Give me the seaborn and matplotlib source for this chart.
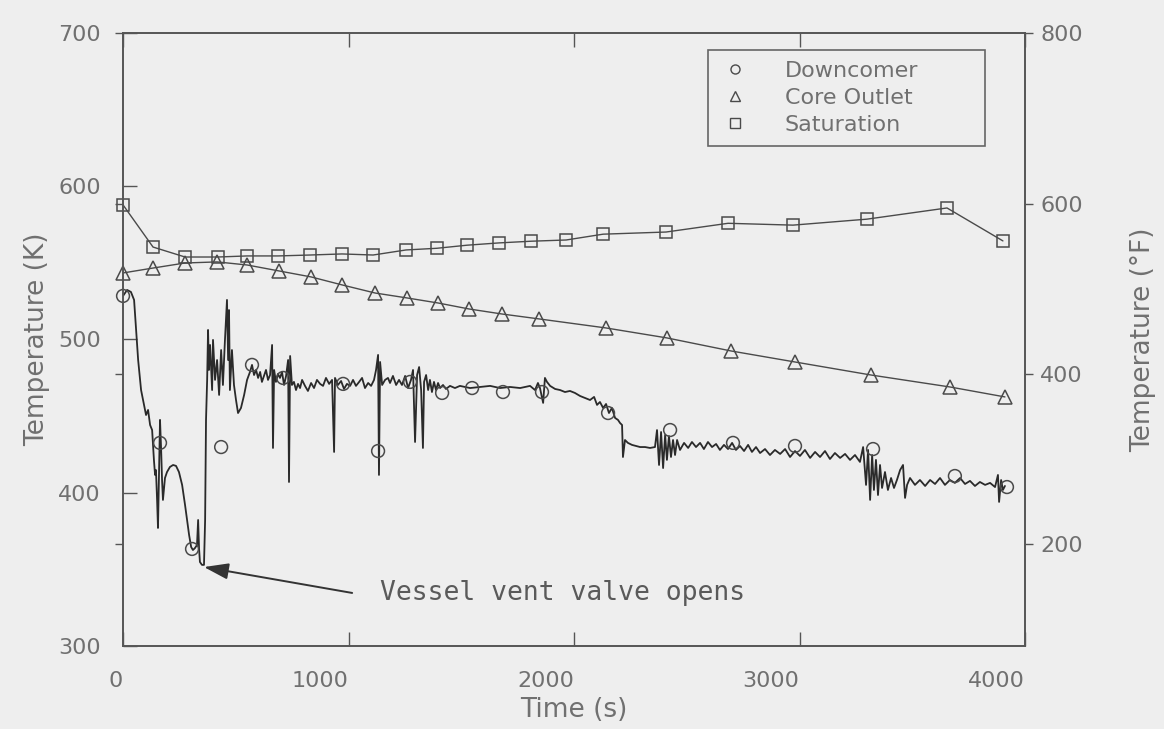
import matplotlib
matplotlib.use("Agg")
import matplotlib.pyplot as plt
import seaborn as sns
import pandas as pd
from matplotlib.lines import Line2D

# ---------------- data ----------------
# Downcomer temperature trace (s, K)
dc_time = [0, 18, 35, 49, 58, 67, 80, 93, 102, 111,
           120, 129, 133, 137, 142, 146, 151, 155, 160, 164,
           169, 173, 177, 186, 195, 208, 222, 235, 248, 262,
           275, 284, 293, 302, 310, 319, 328, 333, 337, 341,
           350, 359, 364, 368, 373, 377, 381, 386, 395, 399,
           408, 417, 426, 435, 443, 452, 461, 466, 470, 474,
           483, 492, 501, 510, 523, 537, 550, 563, 572, 581,
           590, 599, 608, 616, 625, 634, 643, 652, 661, 665,
           670, 678, 687, 696, 705, 714, 723, 732, 736, 741,
           749, 758, 767, 776, 785, 794, 807, 820, 834, 847,
           860, 874, 887, 900, 914, 927, 936, 940, 953, 967,
           980, 993, 1007, 1020, 1033, 1047, 1060, 1073, 1087, 1100,
           1113, 1122, 1131, 1135, 1140, 1149, 1162, 1175, 1184, 1197,
           1211, 1224, 1237, 1251, 1264, 1277, 1286, 1295, 1304, 1313,
           1322, 1330, 1335, 1344, 1353, 1361, 1370, 1379, 1388, 1397,
           1406, 1419, 1432, 1450, 1472, 1494, 1539, 1583, 1628, 1672,
           1716, 1761, 1805, 1827, 1840, 1849, 1863, 1871, 1880, 1894,
           1916, 1938, 1960, 1982, 2004, 2027, 2049, 2071, 2089, 2102,
           2115, 2129, 2142, 2155, 2168, 2182, 2195, 2204, 2213, 2217,
           2226, 2239, 2257, 2275, 2293, 2315, 2337, 2359, 2368, 2377,
           2386, 2395, 2404, 2412, 2421, 2430, 2439, 2448, 2457, 2470,
           2488, 2506, 2523, 2541, 2559, 2576, 2594, 2612, 2630, 2647,
           2665, 2683, 2701, 2718, 2736, 2754, 2772, 2789, 2807, 2825,
           2847, 2869, 2891, 2914, 2936, 2958, 2980, 3002, 3024, 3047,
           3069, 3091, 3113, 3135, 3157, 3180, 3202, 3224, 3246, 3268,
           3282, 3295, 3304, 3313, 3322, 3330, 3339, 3348, 3357, 3366,
           3379, 3392, 3406, 3419, 3432, 3446, 3459, 3468, 3477, 3490,
           3512, 3534, 3557, 3579, 3601, 3623, 3645, 3667, 3689, 3712,
           3734, 3756, 3778, 3800, 3823, 3845, 3867, 3880, 3885, 3894,
           3902, 3911]
dc_temp = [528.4, 532.3, 531.0, 525.8, 506.2, 486.6, 467.0, 457.3, 450.7, 454.0,
           444.2, 440.9, 431.2, 421.4, 411.6, 414.8, 395.3, 377.0, 414.8, 447.5,
           427.9, 408.3, 395.3, 409.6, 413.5, 416.8, 418.1, 417.5, 413.5, 405.1,
           392.0, 382.2, 372.4, 364.6, 362.6, 363.9, 365.9, 382.2, 363.9, 354.8,
           352.9, 352.9, 382.2, 447.5, 473.6, 506.2, 480.1, 496.4, 467.0, 499.7,
           473.6, 486.6, 463.8, 493.1, 470.3, 499.7, 525.8, 486.6, 519.2, 467.0,
           493.1, 470.3, 460.5, 452.0, 455.3, 463.8, 473.6, 478.8, 483.4, 476.8,
           480.1, 474.9, 478.8, 472.3, 476.2, 480.1, 473.6, 476.8, 496.4, 429.2,
           480.1, 472.3, 477.5, 474.9, 478.8, 470.3, 476.2, 486.6, 407.0, 489.2,
           470.3, 472.3, 467.0, 471.0, 468.3, 473.6, 469.7, 466.4, 471.6, 468.3,
           473.6, 471.0, 469.7, 474.9, 471.0, 473.6, 426.6, 474.9, 470.3, 472.9,
           467.7, 471.0, 469.7, 473.6, 469.7, 472.3, 474.9, 468.3, 471.6, 469.7,
           473.6, 480.1, 489.9, 411.6, 485.3, 470.3, 473.6, 474.9, 471.6, 476.2,
           470.3, 473.6, 470.3, 476.2, 468.3, 473.6, 480.1, 433.1, 476.8, 482.0,
           467.0, 429.2, 472.3, 476.8, 467.0, 473.6, 465.7, 472.3, 467.0, 471.6,
           468.3, 470.3, 467.7, 469.7, 468.3, 469.7, 468.3, 469.0, 469.7, 468.3,
           469.0, 468.3, 469.7, 467.0, 471.6, 468.3, 458.6, 474.9, 472.3, 469.7,
           467.7, 467.0, 465.7, 466.4, 465.1, 463.1, 461.8, 460.5, 462.5, 457.3,
           459.2, 455.3, 457.9, 452.0, 455.3, 448.8, 447.5, 445.5, 444.2, 423.3,
           434.4, 432.5, 431.2, 430.5, 429.8, 429.8, 429.2, 429.8, 440.9, 418.1,
           439.6, 416.1, 437.7, 421.4, 437.0, 423.3, 434.4, 424.6, 434.4, 427.9,
           432.5, 429.2, 433.1, 429.8, 432.5, 428.5, 433.1, 429.8, 431.8, 427.9,
           431.2, 428.5, 432.5, 427.9, 430.5, 427.2, 431.2, 426.6, 429.8, 425.9,
           428.5, 424.6, 427.9, 425.3, 428.5, 423.3, 427.2, 424.0, 427.9, 422.7,
           426.6, 423.3, 427.2, 422.0, 425.9, 422.7, 425.3, 421.4, 424.6, 420.1,
           429.8, 405.1, 427.9, 395.3, 424.6, 401.8, 421.4, 398.5, 418.1, 403.1,
           413.5, 401.8, 409.6, 403.1, 408.3, 414.8, 418.1, 396.6, 405.1, 409.6,
           405.1, 408.3, 404.4, 408.3, 405.7, 409.6, 405.1, 408.3, 406.4, 409.6,
           405.7, 407.7, 404.4, 407.0, 405.1, 406.4, 403.7, 411.6, 394.0, 408.3,
           401.8, 404.4]

# Downcomer symbols
dcm_time = [0, 164, 306, 435, 572, 710, 976, 1131, 1273, 1415,
            1548, 1685, 1858, 2151, 2426, 2705, 2980, 3326, 3689, 3920]
dcm_temp = [528.4, 432.5, 363.3, 429.8, 483.4, 474.9, 471.0, 427.2, 472.3, 465.1,
            468.3, 465.7, 465.7, 452.0, 440.9, 432.5, 430.5, 428.5, 410.9, 403.7]

# Core outlet
core_time = [0, 133, 275, 417, 550, 692, 834, 971, 1118, 1259, 1397,
             1534, 1681, 1845, 2142, 2412, 2696, 2980, 3317, 3667, 3911]
core_temp = [543.4, 546.6, 549.9, 550.6, 548.6, 544.7, 540.8, 535.6, 530.3, 527.1, 523.8,
             519.9, 516.6, 513.4, 507.5, 501.0, 492.5, 485.3, 476.8, 469.0, 462.5]

# Saturation
sat_time = [0, 133, 275, 421, 550, 687, 829, 971, 1109, 1255, 1392,
            1525, 1667, 1809, 1965, 2129, 2408, 2683, 2971, 3299, 3654, 3902]
sat_temp = [587.8, 560.3, 553.8, 553.8, 554.5, 554.5, 555.1, 555.8, 555.1, 558.4, 559.5,
            561.5, 563.0, 564.1, 564.9, 568.7, 570.1, 575.8, 574.6, 578.5, 585.8, 564.3]

series_labels = ["Downcomer", "Core Outlet", "Saturation"]
x_ticks = [0, 1000, 2000, 3000, 4000]
k_ticks = [300, 400, 500, 600, 700]
f_ticks = [200, 400, 600, 800]
note_text = "Vessel vent valve opens"
note_tip = (359, 351.5)
note_tail = (1016, 334.6)
note_pos = (1140, 330)

# ---------------- style ----------------
sns.set_theme(style="white")
plt.rcParams["font.family"] = ["DejaVu Sans"]
BG = "#eeeeee"
INK = "#4a4a4a"
TXT = "#707070"
SPINE = "#555555"

fig = plt.figure(figsize=(11.64, 7.29), dpi=100, facecolor=BG)
ax = fig.add_axes([0.1057, 0.1139, 0.7749, 0.8409], facecolor=BG)

dc = pd.DataFrame({"time": dc_time, "temp": dc_temp})
sat = pd.DataFrame({"time": sat_time, "temp": sat_temp})
core = pd.DataFrame({"time": core_time, "temp": core_temp})
dcm = pd.DataFrame({"time": dcm_time, "temp": dcm_temp})

sns.lineplot(data=dc, x="time", y="temp", ax=ax, estimator=None, sort=False,
             color="#2a2a2a", lw=1.3)
sns.lineplot(data=sat, x="time", y="temp", ax=ax, estimator=None, sort=False,
             color=INK, lw=1.0, marker="s", markersize=9, markerfacecolor="none",
             markeredgecolor=INK, markeredgewidth=1.1, clip_on=False)
sns.lineplot(data=core, x="time", y="temp", ax=ax, estimator=None, sort=False,
             color=INK, lw=1.0, marker="^", markersize=10, markerfacecolor="none",
             markeredgecolor=INK, markeredgewidth=1.1, clip_on=False)
sns.scatterplot(data=dcm, x="time", y="temp", ax=ax, marker="o", s=85,
                facecolor="none", edgecolor=INK, linewidth=1.1, clip_on=False, zorder=3)

ax.set_xlim(0, 4000)
ax.set_ylim(300, 700)
ax.set_xticks(x_ticks)
ax.set_yticks(k_ticks)
ax.tick_params(axis="x", direction="in", length=10, width=1, top=True, bottom=True,
               pad=18, labelsize=16, labelcolor=TXT, color=SPINE)
ax.tick_params(axis="y", direction="in", length=10, width=1, left=True, right=True,
               pad=16, labelsize=16, labelcolor=TXT, color=SPINE)
for lbl in ax.get_xticklabels():
    lbl.set_horizontalalignment("right")
ax.set_xlabel("Time (s)", fontsize=19, color=TXT, labelpad=4)
ax.set_ylabel("Temperature (K)", fontsize=19, color=TXT, labelpad=6)

ax2 = ax.twinx()
ax2.set_ylim((300 - 273.15) * 1.8 + 32, (700 - 273.15) * 1.8 + 32)
ax2.set_yticks(f_ticks)
ax2.tick_params(axis="y", direction="out", length=6, width=1, left=True, right=True,
                labelleft=False, labelright=True, pad=5, labelsize=16,
                labelcolor=TXT, color=SPINE)
ax2.set_ylabel("Temperature (°F)", fontsize=19, color=TXT, labelpad=34)
ax2.grid(False)
ax.grid(False)

for a in (ax, ax2):
    for s in a.spines.values():
        s.set_color(SPINE)
        s.set_linewidth(1.2)

# legend
handles = [
    Line2D([], [], ls="", marker="o", ms=6.5, mfc="none", mec=INK, mew=1.0),
    Line2D([], [], ls="", marker="^", ms=6.5, mfc="none", mec=INK, mew=1.0),
    Line2D([], [], ls="", marker="s", ms=6.5, mfc="none", mec=INK, mew=1.0),
]
leg = ax2.legend(handles, series_labels, loc="upper left",
                 bbox_to_anchor=(0.6486, 0.806, 0.3071, 0.166), mode="expand",
                 borderaxespad=0, frameon=True, fancybox=False, edgecolor="#666666",
                 facecolor=BG, framealpha=1, fontsize=16, handlelength=1.45,
                 handletextpad=1.5, borderpad=0.5, labelspacing=0.3)
leg.get_frame().set_linewidth(1.2)
for t in leg.get_texts():
    t.set_color(TXT)

# annotation
ax.annotate("", xy=note_tip, xytext=note_tail,
            arrowprops=dict(arrowstyle="-|>,head_length=1.0,head_width=0.33",
                            mutation_scale=15, color="#333333", lw=1.4,
                            shrinkA=0, shrinkB=0))
ax.text(note_pos[0], note_pos[1], note_text, family="DejaVu Sans Mono",
        fontsize=19, color="#5a5a5a", va="baseline", ha="left")

fig.savefig("out.png", dpi=100, facecolor=BG)
